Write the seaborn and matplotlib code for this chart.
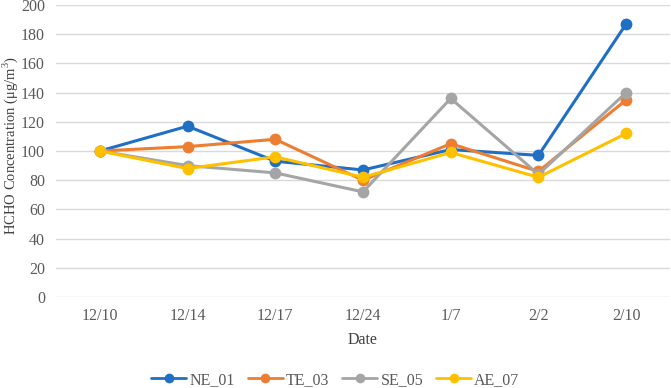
import pandas as pd
import matplotlib
matplotlib.use("Agg")
import matplotlib.pyplot as plt
import seaborn as sns

DATES = ["12/10", "12/14", "12/17", "12/24", "1/7", "2/2", "2/10"]
NE_01 = [100, 117, 93, 87, 101, 97, 187]
TE_03 = [100, 103, 108, 80, 105, 86, 135]
SE_05 = [100, 90, 85, 72, 136, 84, 140]
AE_07 = [100, 88, 96, 82, 99, 82, 112]

SERIES = {"NE_01": NE_01, "TE_03": TE_03, "SE_05": SE_05, "AE_07": AE_07}
COLORS = {"NE_01": "#1f6fc4", "TE_03": "#ed7d31", "SE_05": "#a5a5a5", "AE_07": "#ffc000"}

rows = []
for name, vals in SERIES.items():
    for i, (d, v) in enumerate(zip(DATES, vals)):
        rows.append({"Date": d, "idx": i, "value": v, "site": name})
df = pd.DataFrame(rows)

sns.set_style("white")
plt.rcParams["font.family"] = ["Liberation Serif", "DejaVu Serif"]
plt.rcParams["mathtext.fontset"] = "custom"
plt.rcParams["mathtext.rm"] = "Liberation Serif"

fig = plt.figure(figsize=(6.71, 3.88), dpi=100)
ax = fig.add_axes([56 / 671, 1 - 297 / 388, 614 / 671, 292 / 388])

sns.lineplot(data=df, x="idx", y="value", hue="site", palette=COLORS,
             marker="o", markersize=8.5, markeredgewidth=0, linewidth=2.2,
             sort=False, ax=ax, legend=True)

ax.set_xlim(-0.5, len(DATES) - 0.5)
ax.set_ylim(0, 200)
ax.set_yticks(range(0, 201, 20))
ax.set_xticks(range(len(DATES)))
ax.set_xticklabels(DATES)
ax.yaxis.grid(True, color="#d9d9d9", linewidth=1)
ax.set_axisbelow(True)
for s in ["top", "right", "left", "bottom"]:
    ax.spines[s].set_visible(False)
ax.tick_params(axis="both", length=0, labelsize=11.5, labelcolor="#595959", pad=8)
ax.tick_params(axis="y", pad=8)

ax.set_xlabel("Date", fontsize=11.5, color="#404040", labelpad=6)
ax.set_ylabel("HCHO Concentration (μg/m$^3$)", fontsize=10.5, color="#404040")
ax.yaxis.set_label_coords(-0.059, 0.52)

handles, labels = ax.get_legend_handles_labels()
for h in handles:
    h.set_markersize(7)
    h.set_linewidth(2)
ax.legend(handles, labels, loc="center", bbox_to_anchor=(0.455, -0.284),
          ncol=4, frameon=False, fontsize=11.5, handlelength=2.2, columnspacing=0.8,
          handletextpad=0.2, labelcolor="#595959")

fig.savefig("out.png", dpi=100)
